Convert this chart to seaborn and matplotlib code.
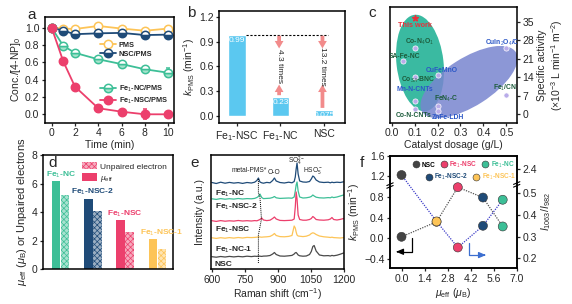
import numpy as np
import pandas as pd
import seaborn as sns
import matplotlib
matplotlib.use('Agg')
import matplotlib.pyplot as plt
from matplotlib.patches import Ellipse, Patch
from matplotlib.lines import Line2D
from matplotlib.transforms import Affine2D

sns.set_theme(style='ticks')
plt.rcParams['font.family'] = ['Liberation Sans', 'DejaVu Sans']
plt.rcParams['mathtext.fontset'] = 'custom'
plt.rcParams['mathtext.rm'] = 'Liberation Sans'
plt.rcParams['mathtext.it'] = 'Liberation Sans:italic'
plt.rcParams['mathtext.bf'] = 'Liberation Sans:bold'
plt.rcParams.update({
    'axes.linewidth': 1.1, 'axes.edgecolor': 'black',
    'xtick.labelsize': 7.5, 'ytick.labelsize': 7.5, 'axes.labelsize': 7.5,
    'xtick.major.size': 2.5, 'ytick.major.size': 2.5,
    'xtick.major.width': 0.9, 'ytick.major.width': 0.9,
    'xtick.major.pad': 1.5, 'ytick.major.pad': 1.5,
    'axes.labelpad': 1.5, 'hatch.linewidth': 0.5,
})

# ---- data ----
# a: degradation curves
time_min = [0, 1, 2, 4, 6, 8, 10]
pms = [1.0, 0.99, 0.985, 1.02, 0.99, 0.965, 0.99]
pms_err = [0.01, 0.02, 0.02, 0.02, 0.02, 0.02, 0.03]
nsc_pms = [1.0, 0.965, 0.925, 0.935, 0.94, 0.915, 0.92]
nsc_pms_err = [0.01, 0.02, 0.02, 0.02, 0.02, 0.02, 0.02]
fenc_pms = [1.0, 0.79, 0.71, 0.635, 0.58, 0.52, 0.48]
fenc_pms_err = [0.01, 0.02, 0.02, 0.02, 0.02, 0.02, 0.05]
fensc_pms = [1.0, 0.61, 0.32, 0.07, 0.03, 0.0, 0.0]
fensc_pms_err = [0.01, 0.02, 0.02, 0.04, 0.02, 0.06, 0.03]

# b: rate constants
cat_b = ['Fe$_1$-NSC', 'Fe$_1$-NC', 'NSC']
k_pms = [0.99, 0.23, 0.075]
k_text = ['0.99', '0.23', '0.075']
fold_text = ['4.3 times', '13.2 times']

# c: literature comparison
ref_names = ['Co-N$_4$O$_1$', 'SA-Fe-NC', 'CuFeMnO', 'Co$_{SA}$-BNC', 'Mn-N-CNTs',
             'FeN$_4$-C', 'Co-N-CNTs', 'ZnFe-LDH', 'CuIn$_2$O$_4$/O$_2$', 'Fe$_1$/CN']
ref_dosage = [0.1, 0.05, 0.2, 0.1, 0.1, 0.2, 0.1, 0.2, 0.5, 0.5]
ref_activity = [25.2, 20.1, 14.9, 14.0, 5.0, 3.2, 2.0, 1.1, 24.9, 7.3]
this_dosage = 0.1
this_activity = 36.3

# d: magnetic moments
samples_d = ['Fe$_1$-NC', 'Fe$_1$-NSC-2', 'Fe$_1$-NSC', 'Fe$_1$-NSC-1']
mu_eff = [6.15, 4.95, 3.42, 2.13]
unpaired = [5.2, 4.1, 2.6, 1.43]

# e: Raman spectra (offset, a.u.)
raman_x = [600, 620, 640, 660, 680, 700, 720, 740, 760, 780, 795, 805, 812, 819, 827, 835,
           850, 865, 877, 885, 893, 910, 930, 950, 965, 975, 980, 984, 988, 993, 1000, 1015,
           1030, 1045, 1053, 1060, 1066, 1075, 1090, 1110, 1130, 1140, 1147, 1155, 1170, 1185, 1200]
raman_fenc = [86.5, 85.5, 86.8, 85.8, 86.6, 85.9, 86.4, 85.6, 86.5, 86.0, 86.8, 88.5, 91.0, 87.0, 86.2, 85.8,
              86.6, 86.2, 88.5, 91.0, 88.0, 86.5, 86.0, 86.8, 86.2, 87.5, 92.0, 100.0, 106.0, 95.0, 88.0, 87.0,
              86.8, 87.5, 90.0, 93.0, 92.0, 89.0, 87.0, 86.5, 86.8, 86.2, 86.8, 86.4, 86.8, 86.5, 87.2]
raman_fensc2 = [70.2, 69.6, 70.4, 69.8, 70.3, 69.9, 70.5, 70.0, 70.4, 70.2, 70.6, 71.5, 72.5, 75.0, 71.5, 70.4,
                70.6, 70.8, 71.5, 72.5, 71.2, 70.6, 70.8, 71.0, 70.8, 72.0, 78.0, 84.0, 87.0, 78.0, 72.0, 71.0,
                71.2, 71.8, 72.5, 74.0, 73.0, 71.8, 71.2, 71.0, 71.4, 71.2, 72.0, 71.4, 72.0, 73.0, 74.0]
raman_fensc = [48.3, 47.6, 48.4, 47.8, 48.2, 47.9, 48.5, 48.0, 48.3, 48.0, 48.4, 48.2, 48.8, 49.5, 51.0, 49.0,
               48.4, 48.8, 50.5, 52.0, 50.0, 48.6, 48.4, 48.6, 48.8, 50.0, 62.0, 77.0, 70.0, 54.0, 49.5, 48.8,
               48.8, 49.5, 50.5, 52.5, 51.5, 49.5, 49.0, 48.8, 49.2, 50.0, 51.5, 49.5, 49.0, 49.6, 50.5]
raman_fenc1 = [31.2, 30.6, 31.3, 30.8, 31.4, 30.9, 31.5, 31.0, 31.6, 31.4, 31.6, 31.8, 32.2, 32.0, 31.8, 32.0,
               32.2, 32.6, 34.0, 35.5, 33.5, 32.4, 32.2, 32.6, 33.5, 43.0, 41.0, 37.0, 34.0, 33.0, 32.8, 32.4,
               32.8, 34.0, 35.5, 36.2, 35.8, 34.5, 33.0, 32.2, 31.8, 31.5, 31.8, 31.4, 31.2, 31.0, 31.4]
raman_nsc = [12.3, 11.8, 12.5, 12.0, 12.6, 12.1, 12.6, 12.2, 12.8, 12.4, 12.8, 12.6, 13.0, 12.8, 12.6, 12.9,
             13.0, 13.5, 15.0, 16.5, 14.5, 13.0, 12.8, 13.2, 13.6, 15.0, 16.2, 16.5, 15.5, 14.0, 13.2, 12.8,
             13.0, 14.5, 17.5, 22.5, 23.5, 18.0, 14.0, 13.2, 13.4, 13.0, 13.6, 13.2, 13.8, 14.8, 16.0]
spectra_names = ['Fe$_1$-NC', 'Fe$_1$-NSC-2', 'Fe$_1$-NSC', 'Fe$_1$-NC-1', 'NSC']
pms_guide_x = [812, 812, 819, 826, 812, 812]
pms_guide_y = [90, 76, 72, 50, 34, 6]

# f: correlation
samples_f = ['NSC', 'Fe$_1$-NSC-1', 'Fe$_1$-NSC', 'Fe$_1$-NSC-2', 'Fe$_1$-NC']
mu_f = [0.0, 2.13, 3.42, 4.95, 6.15]
k_f = [0.03, 0.32, 0.99, 0.79, 0.23]
ratio_f = [2.3, 0.37, 0.25, 0.35, 0.47]

# ---- colours ----
c_yel = '#fdc457'
c_dbl = '#1f4b78'
c_grn = '#3dbf97'
c_pnk = '#ec3f6c'
c_gry = '#444444'
c_bar = '#5bc8f0'
c_dkg = '#1d5c3c'
c_blu = '#2a56c6'

W, H = 572, 304
fig = plt.figure(figsize=(W / 100, H / 100), dpi=100)


def box(l, t, r, b):
    return fig.add_axes([l / W, 1 - b / H, (r - l) / W, (b - t) / H])


# ================= a =================
ax = box(45, 16.7, 174, 122.7)
styles = [
    ('PMS', pms, pms_err, c_yel, dict(mfc='white')),
    ('NSC/PMS', nsc_pms, nsc_pms_err, c_dbl, dict(fillstyle='bottom', mfc=c_dbl, markerfacecoloralt='white')),
    ('Fe$_1$-NC/PMS', fenc_pms, fenc_pms_err, c_grn, dict(fillstyle='bottom', mfc='#a5e3cc', markerfacecoloralt='white')),
    ('Fe$_1$-NSC/PMS', fensc_pms, fensc_pms_err, c_pnk, dict(mfc=c_pnk)),
]
handles = []
for name, y, e, c, kw in styles:
    ax.errorbar(time_min, y, yerr=e, color=c, lw=1.3, marker='o', ms=6, mec=c, mew=1.1,
                capsize=1.5, elinewidth=0.9, **kw)
    handles.append(Line2D([], [], color=c, lw=1.3, marker='o', ms=6, mec=c, mew=1.1, **kw))
ax.set_xlim(-0.57, 10.5)
ax.set_ylim(-0.097, 1.127)
ax.set_xticks([0, 2, 4, 6, 8, 10])
ax.set_yticks([0.0, 0.2, 0.4, 0.6, 0.8, 1.0])
ax.set_xlabel('Time (min)')
ax.set_ylabel('Conc./[4-NP]$_0$')
lkw = dict(frameon=False, handlelength=2.2, handletextpad=0.3,
           labelspacing=0.25, borderpad=0, prop={'weight': 'bold', 'size': 5.3})
leg1 = ax.legend(handles[:2], [s[0] for s in styles[:2]], loc='upper left',
                 bbox_to_anchor=(0.4, 0.8), **lkw)
ax.add_artist(leg1)
ax.legend(handles[2:], [s[0] for s in styles[2:]], loc='upper left',
          bbox_to_anchor=(0.4, 0.40), **lkw)
fig.text(31.7 / W, 1 - 15 / H, 'a', fontsize=11, va='center', ha='center')

# ================= b =================
ax = box(219.3, 11, 345, 123.3)
df_b = pd.DataFrame({'cat': cat_b, 'k': k_pms})
sns.barplot(data=df_b, x='cat', y='k', color=c_bar, width=0.41, saturation=1, ax=ax)
for i, (v, t) in enumerate(zip(k_pms, k_text)):
    ax.text(i, v - 0.03, t, color='white', fontsize=6, ha='center', va='top')
ax.plot([0.2, 2.1], [k_pms[0], k_pms[0]], ls=(0, (2, 1.5)), color='black', lw=0.8)
arr = dict(arrowstyle='simple,head_width=0.7,head_length=0.6,tail_width=0.3',
           color='#f28b8b', lw=0, shrinkA=0, shrinkB=0, mutation_scale=9)
for i, t in zip([1, 2], fold_text):
    x = i - 0.03
    ax.annotate('', xy=(x, 0.82), xytext=(x, 0.975), arrowprops=arr)
    ax.annotate('', xy=(x, 0.38), xytext=(x, k_pms[i] + 0.02), arrowprops=arr)
    ax.text(x, 0.60, t, rotation=-90, fontsize=6, ha='center', va='center')
ax.set_xlim(-0.41, 2.49)
ax.set_ylim(-0.093, 1.277)
ax.set_yticks([0.0, 0.3, 0.6, 0.9, 1.2])
ax.set_xlabel('')
ax.set_ylabel('$k$$_{\\rm PMS}$ (min$^{-1}$)')
fig.text(191.7 / W, 1 - 13.3 / H, 'b', fontsize=11, va='center', ha='center')

# ================= c =================
ax = box(390, 7.3, 516.7, 122.7)
pix = Affine2D().scale(1, -1).translate(0, H)
ax.add_patch(Ellipse((420, 63), 97, 47, angle=83.5, transform=pix,
                     facecolor='#2fb79c', edgecolor='none', alpha=0.95, zorder=1))
ax.add_patch(Ellipse((469, 82), 111, 48, angle=-32.5, transform=pix,
                     facecolor='#7885cf', edgecolor='none', alpha=0.85, zorder=2))
sns.scatterplot(x=ref_dosage, y=ref_activity, color='#b9ace9', edgecolor='white',
                linewidth=0.5, s=14, ax=ax, zorder=3)
ax.scatter([this_dosage], [this_activity], marker='*', color='#e8323c', s=18, zorder=4)
ax.text(this_dosage, this_activity - 1.5, 'This work', color='#e8323c', fontsize=5.2,
        ha='center', va='top', weight='bold', zorder=5)
lab_xy = [(0.123, 27.2), (0.058, 21.8), (0.22, 16.5), (0.116, 12.9), (0.101, 9.2),
          (0.239, 5.7), (0.094, -0.6), (0.246, -1.1), (0.49, 27.1), (0.493, 9.8)]
lab_col = [c_dkg, c_dkg, c_blu, c_dkg, c_blu, c_dkg, c_dkg, c_blu, c_blu, c_dkg]
for n, (lx, ly), lc in zip(ref_names, lab_xy, lab_col):
    ax.text(lx, ly, n, color=lc, fontsize=4.9, ha='center', va='center', weight='bold',
            zorder=5, clip_on=True)
ax.set_xlim(-0.007, 0.545)
ax.set_ylim(-3.2, 40.4)
ax.set_xticks([0.0, 0.1, 0.2, 0.3, 0.4, 0.5])
ax.set_yticks([0, 7, 14, 21, 28, 35])
ax.yaxis.tick_right()
ax.yaxis.set_label_position('right')
ax.set_xlabel('Catalyst dosage (g/L)')
ax.set_ylabel('Specific activity\n(×10$^{-3}$ L min$^{-1}$ m$^{-2}$)', rotation=90, labelpad=2)
fig.text(371.7 / W, 1 - 13.3 / H, 'c', fontsize=11, va='center', ha='center')

# ================= d =================
ax = box(43.3, 155, 172.7, 269.3)
df_d = pd.DataFrame({'sample': samples_d * 2, 'value': mu_eff + unpaired,
                     'kind': ['mu'] * 4 + ['unp'] * 4})
sns.barplot(data=df_d, x='sample', y='value', hue='kind', width=0.56, gap=0.08,
            legend=False, saturation=1, ax=ax)
d_cols = [c_grn, c_dbl, c_pnk, c_yel]
tint = lambda c, f: tuple(1 - f * (1 - np.array(matplotlib.colors.to_rgb(c))))
for p, c in zip(ax.containers[0].patches, d_cols):
    p.set_facecolor(c)
    p.set_edgecolor('none')
for p, c in zip(ax.containers[1].patches, d_cols):
    p.set_facecolor(tint(c, 0.45))
    p.set_edgecolor(c)
    p.set_hatch('xxxxxx')
    p.set_linewidth(0)
for i, (n, v, c) in enumerate(zip(samples_d, mu_eff, d_cols)):
    ax.text(i + (0.12 if i == 3 else 0), v + 0.45, n, color=c, fontsize=6, weight='bold',
            ha='center', va='center')
leg_h = [Patch(facecolor=tint(c_pnk, 0.45), edgecolor=c_pnk, hatch='xxxxxx', lw=0),
         Patch(facecolor=c_pnk, edgecolor='none')]
ax.legend(leg_h, ['Unpaired electron', '$\\mu_{\\rm eff}$'], loc='upper right',
          bbox_to_anchor=(1.0, 0.99), frameon=False, fontsize=6, handlelength=1.8,
          handleheight=1.0, handletextpad=0.4, labelspacing=0.3, borderpad=0.2)
ax.set_xlim(-0.54, 3.48)
ax.set_ylim(0, 8)
ax.set_yticks([0, 2, 4, 6, 8])
ax.set_xticks([])
ax.set_xlabel('')
ax.set_ylabel('$\\mu_{\\rm eff}$ ($\\mu_{\\rm B}$) or Unpaired electrons', fontsize=8, labelpad=2)
ax.text(0.04, 0.93, 'd', transform=ax.transAxes, fontsize=11, va='center', ha='left')

# ================= e =================
ax = box(211, 155, 344, 269)
spectra = [raman_fenc, raman_fensc2, raman_fensc, raman_fenc1, raman_nsc]
e_cols = [c_dbl, c_grn, c_pnk, c_yel, '#4a4a4a']
for y, c in zip(spectra, e_cols):
    sns.lineplot(x=raman_x, y=y, color=c, lw=0.9, ax=ax)
ax.plot(pms_guide_x, pms_guide_y, ls=(0, (1, 1)), color='black', lw=0.7)
lab_y = [75.5, 62, 39, 19, 4.5]
for n, ly in zip(spectra_names, lab_y):
    ax.text(614, ly, n, fontsize=6, weight='bold', ha='left', va='center')
ax.text(768, 98, 'metal-PMS*', fontsize=4.8, ha='center', va='center')
ax.text(885, 96, 'O-O', fontsize=4.8, ha='center', va='center')
ax.text(987, 108, 'SO$_4^{2-}$', fontsize=4.8, ha='center', va='center')
ax.text(1060, 98, 'HSO$_5^-$', fontsize=4.8, ha='center', va='center')
ax.set_xlim(596, 1202)
ax.set_ylim(0, 114)
ax.set_xticks([600, 750, 900, 1050, 1200])
ax.set_yticks([])
ax.set_xlabel('Raman shift (cm$^{-1}$)')
ax.set_ylabel('Intensity (a.u.)', labelpad=4)
fig.text(195 / W, 1 - 163 / H, 'e', fontsize=11, va='center', ha='center')

# ================= f =================
ax = box(390, 155.7, 516.7, 268.3)
ax2 = ax.twinx()
f_cols = [c_gry, c_yel, c_pnk, c_dbl, c_grn]


def brk(v):
    # right axis is broken above 0.5 -> 2.4
    return 0.61 + (v - 2.4) * 0.26 if v > 1 else v


ratio_pos = [brk(v) for v in ratio_f]
ax.plot(mu_f, k_f, ls=(0, (1, 1)), color='#555555', lw=0.9, zorder=2)
ax2.plot(mu_f, ratio_pos, ls=(0, (1, 1)), color='#3c3cc8', lw=0.9, zorder=2)
sns.scatterplot(x=mu_f, y=k_f, hue=samples_f, palette=f_cols, s=42, edgecolor='#333333',
                linewidth=0.4, legend=False, ax=ax, zorder=3)
sns.scatterplot(x=mu_f, y=ratio_pos, hue=samples_f, palette=f_cols, s=42, edgecolor='#333333',
                linewidth=0.4, legend=False, ax=ax2, zorder=3)
# direction arrows
ax.plot([0.65, 0.65, -0.1], [0.0, -0.26, -0.26], color='black', lw=0.9)
ax.annotate('', xy=(-0.5, -0.26), xytext=(-0.05, -0.26),
            arrowprops=dict(arrowstyle='-|>,head_width=0.15,head_length=0.35', color='black', lw=0.9))
ax2.plot([4.1, 4.1, 4.9], [0.27, 0.215, 0.215], color='#3c6fd0', lw=0.9)
ax2.annotate('', xy=(5.3, 0.215), xytext=(4.85, 0.215),
             arrowprops=dict(arrowstyle='-|>,head_width=0.15,head_length=0.35', color='#3c6fd0', lw=0.9))
ax.set_xlim(-0.7, 7.0)
ax.set_ylim(-0.58, 1.6)
ax.set_xticks([0.0, 1.4, 2.8, 4.2, 5.6, 7.0])
ax.set_yticks([-0.4, 0.0, 0.4, 0.8, 1.2, 1.6])
ax2.set_ylim(0.154, 0.673)
ax2.set_yticks([0.2, 0.3, 0.4, 0.5, brk(2.4)])
ax2.set_yticklabels(['0.2', '0.3', '0.4', '0.5', '2.4'])
ax2.spines['right'].set_linewidth(1.1)
ax.set_xlabel('$\\mu_{\\rm eff}$ ($\\mu_{\\rm B}$)')
ax.set_ylabel('$k$$_{\\rm PMS}$ (min$^{-1}$)')
ax2.set_ylabel('$I_{1063}/I_{982}$', rotation=90)
# axis break marks
for xa, ya in [(0.0, 0.735), (1.0, 0.745)]:
    for dy in (-0.012, 0.012):
        ax.plot([xa - 0.025, xa + 0.025], [ya + dy - 0.012, ya + dy + 0.012], color='black',
                lw=0.8, transform=ax.transAxes, clip_on=False, zorder=5)
mk = lambda c: Line2D([], [], marker='o', ls='', mfc=c, mec='#333333', mew=0.4, ms=5)
lf = dict(frameon=False, handletextpad=-0.2, columnspacing=0.3, borderpad=0,
          prop={'weight': 'bold', 'size': 4.7})
order1 = [0, 2, 4]
order2 = [3, 1]
l1 = ax.legend([mk(f_cols[i]) for i in order1], [samples_f[i] for i in order1], ncol=3,
               loc='upper left', bbox_to_anchor=(0.13, 0.995),
               labelcolor=[f_cols[i] if i else 'black' for i in order1], **lf)
ax.add_artist(l1)
ax.legend([mk(f_cols[i]) for i in order2], [samples_f[i] for i in order2], ncol=2,
          loc='upper left', bbox_to_anchor=(0.23, 0.885),
          labelcolor=[f_cols[i] for i in order2], **lf)
fig.text(362 / W, 1 - 163 / H, 'f', fontsize=11, va='center', ha='center')

fig.savefig('out.png', dpi=100)
